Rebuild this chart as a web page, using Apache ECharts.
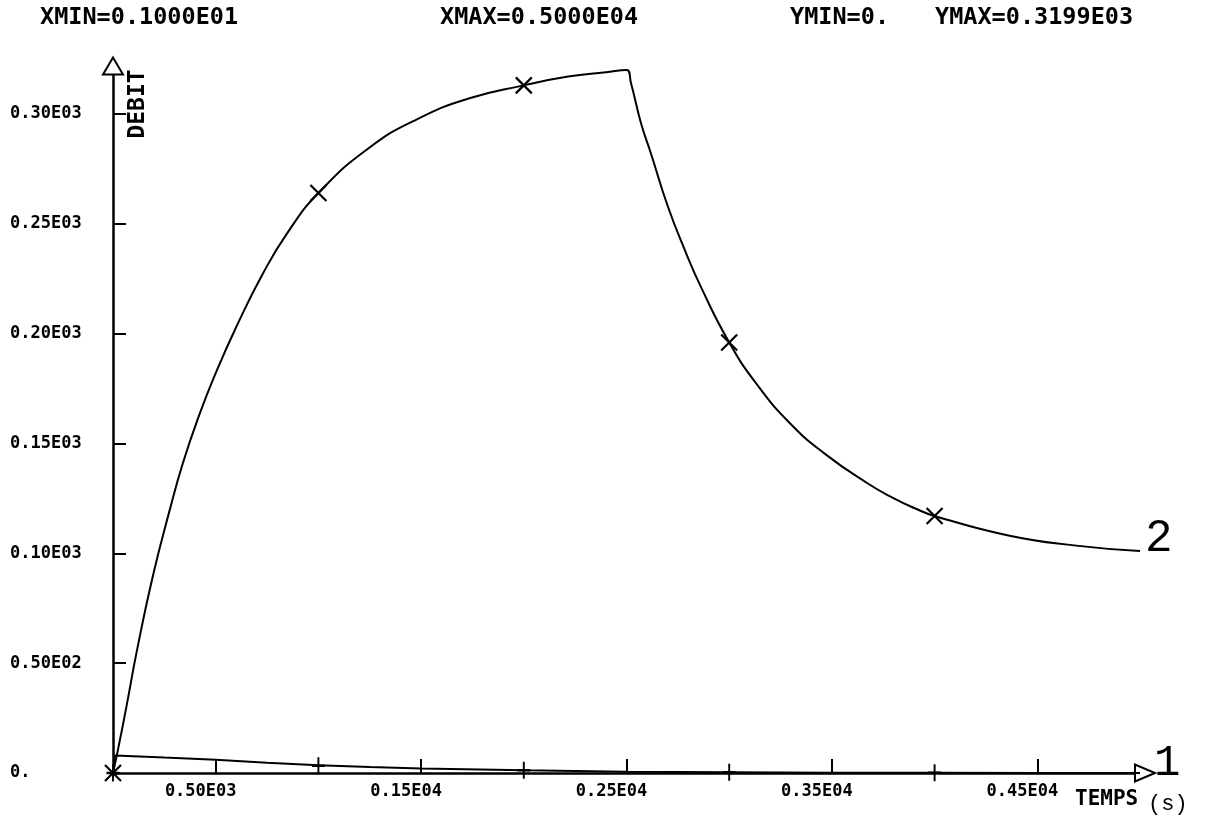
<!DOCTYPE html>
<html>
<head>
<meta charset="utf-8">
<script src="https://cdn.jsdelivr.net/npm/echarts@6/dist/echarts.min.js"></script>
<style>
html,body{margin:0;padding:0;background:#fff;}
#chart{width:1210px;height:827px;}
</style>
</head>
<body>
<div id="chart"></div>
<script>
// ---- data ----
const xTickValues = [500, 1500, 2500, 3500, 4500];
const xTickLabels = ['0.50E03', '0.15E04', '0.25E04', '0.35E04', '0.45E04'];
const yTickValues = [0, 50, 100, 150, 200, 250, 300];
const yTickLabels = ['0.', '0.50E02', '0.10E03', '0.15E03', '0.20E03', '0.25E03', '0.30E03'];

const curve2X = [0, 25, 67, 115, 195, 277, 340, 420, 500, 600, 728, 850, 1000, 1246, 1489, 1731, 2000, 2216, 2400, 2500,
                 2522, 2570, 2619, 2701, 2784, 2861, 3000, 3138, 3298, 3463, 3671, 3802, 3904, 4000, 4365, 4690, 5000];
const curve2Y = [0, 11, 31, 55, 90, 120, 141, 163, 182, 203, 227, 246, 264, 284.5, 298, 307, 313, 317, 319, 320,
                 314, 296, 282, 258, 238, 221.5, 196, 176.5, 159, 145.5, 132, 125, 120.5, 117, 108, 103.5, 101];
const curve2MarkX = [0, 1000, 2000, 3000, 4000];
const curve2MarkY = [0, 264, 313, 196, 117];

const curve1X = [0, 10, 250, 500, 750, 1000, 1250, 1500, 2000, 2500, 3000, 3500, 4000, 4500, 5000];
const curve1Y = [0, 8, 7, 6, 4.7, 3.5, 2.7, 2.1, 1.2, 0.6, 0.3, 0.15, 0.08, 0.04, 0.02];
const curve1MarkX = [0, 1000, 2000, 3000, 4000];
const curve1MarkY = [0, 3.3, 1.2, 0.3, 0.08];

const headerTexts = ['XMIN=0.1000E01', 'XMAX=0.5000E04', 'YMIN=0.', 'YMAX=0.3199E03'];

// ---- build ----
const zip = (a, b) => a.map((v, i) => [v, b[i]]);
const MONO = "'DejaVu Sans Mono', monospace";
const COUR = "'Liberation Mono', 'DejaVu Sans Mono', monospace";

const chart = echarts.init(document.getElementById('chart'), null, {renderer: 'canvas'});

const headerLeft = [40, 440, 790, 935];

const option = {
  animation: false,
  backgroundColor: '#fff',
  grid: {left: 113, right: 70, top: 70, bottom: 54, containLabel: false},
  xAxis: {
    type: 'value', min: 0, max: 5000,
    axisLine: {show: true, onZero: false, symbol: ['none', 'emptyTriangle'], symbolSize: [17, 20], symbolOffset: [0, 5],
      lineStyle: {color: '#000', width: 2.5}},
    axisTick: {show: true, inside: true, length: 14, customValues: xTickValues, lineStyle: {color: '#000', width: 2}},
    axisLabel: {show: true, customValues: xTickValues, margin: 10, color: '#000',
      fontFamily: MONO, fontWeight: 'bold', fontSize: 17, padding: [0, 30, 0, 0],
      formatter: v => { const i = xTickValues.indexOf(v); return i >= 0 ? xTickLabels[i] : ''; }},
    splitLine: {show: false}
  },
  yAxis: {
    type: 'value', min: 0, max: 320,
    axisLine: {show: true, onZero: false, symbol: ['none', 'emptyTriangle'], symbolSize: [20, 17], symbolOffset: [0, 4],
      lineStyle: {color: '#000', width: 2.5}},
    axisTick: {show: true, inside: true, length: 13, customValues: yTickValues.slice(1), lineStyle: {color: '#000', width: 2}},
    axisLabel: {show: true, customValues: yTickValues, margin: 103, align: 'left', color: '#000',
      fontFamily: MONO, fontWeight: 'bold', fontSize: 17, padding: [0, 0, 7, 0],
      formatter: v => { const i = yTickValues.indexOf(v); return i >= 0 ? yTickLabels[i] : ''; }},
    splitLine: {show: false}
  },
  graphic: [
    ...headerTexts.map((t, i) => ({type: 'text', x: headerLeft[i], y: 18,
      style: {text: t, font: "bold 23.5px " + MONO, fill: '#000', verticalAlign: 'middle'}})),
    {type: 'text', x: 138, y: 104, rotation: Math.PI / 2,
      style: {text: 'DEBIT', font: "bold 23px " + MONO, fill: '#000', align: 'center', verticalAlign: 'middle'}},
    {type: 'text', x: 1075, y: 800,
      style: {text: 'TEMPS', font: "bold 21px " + MONO, fill: '#000', verticalAlign: 'middle'}},
    {type: 'text', x: 1148, y: 804,
      style: {text: '(s)', font: "22px " + COUR, fill: '#000', verticalAlign: 'middle'}}
  ],
  series: [
    {
      name: '2', type: 'line', data: zip(curve2X, curve2Y), showSymbol: false, symbol: 'none',
      smooth: 0.5,
      lineStyle: {color: '#000', width: 2},
      endLabel: {show: true, formatter: '2', fontFamily: COUR, fontSize: 46, color: '#000', offset: [-3, -12]}
    },
    {
      name: '1', type: 'line', data: zip(curve1X, curve1Y), showSymbol: false, symbol: 'none',
      lineStyle: {color: '#000', width: 2},
      endLabel: {show: true, formatter: '1', fontFamily: COUR, fontSize: 44, color: '#000', offset: [6, -10]}
    },
    {
      type: 'scatter', data: zip(curve2MarkX, curve2MarkY),
      symbol: 'path://M0,0L10,10M10,0L0,10', symbolSize: 16,
      itemStyle: {color: 'none', borderColor: '#000', borderWidth: 2.2, opacity: 1}, z: 5
    },
    {
      type: 'scatter', data: zip(curve1MarkX, curve1MarkY),
      symbol: 'path://M5,0L5,10M0,5L10,5', symbolSize: [13, 17],
      itemStyle: {color: 'none', borderColor: '#000', borderWidth: 2.2, opacity: 1}, z: 5
    }
  ]
};
chart.setOption(option);
</script>
</body>
</html>
